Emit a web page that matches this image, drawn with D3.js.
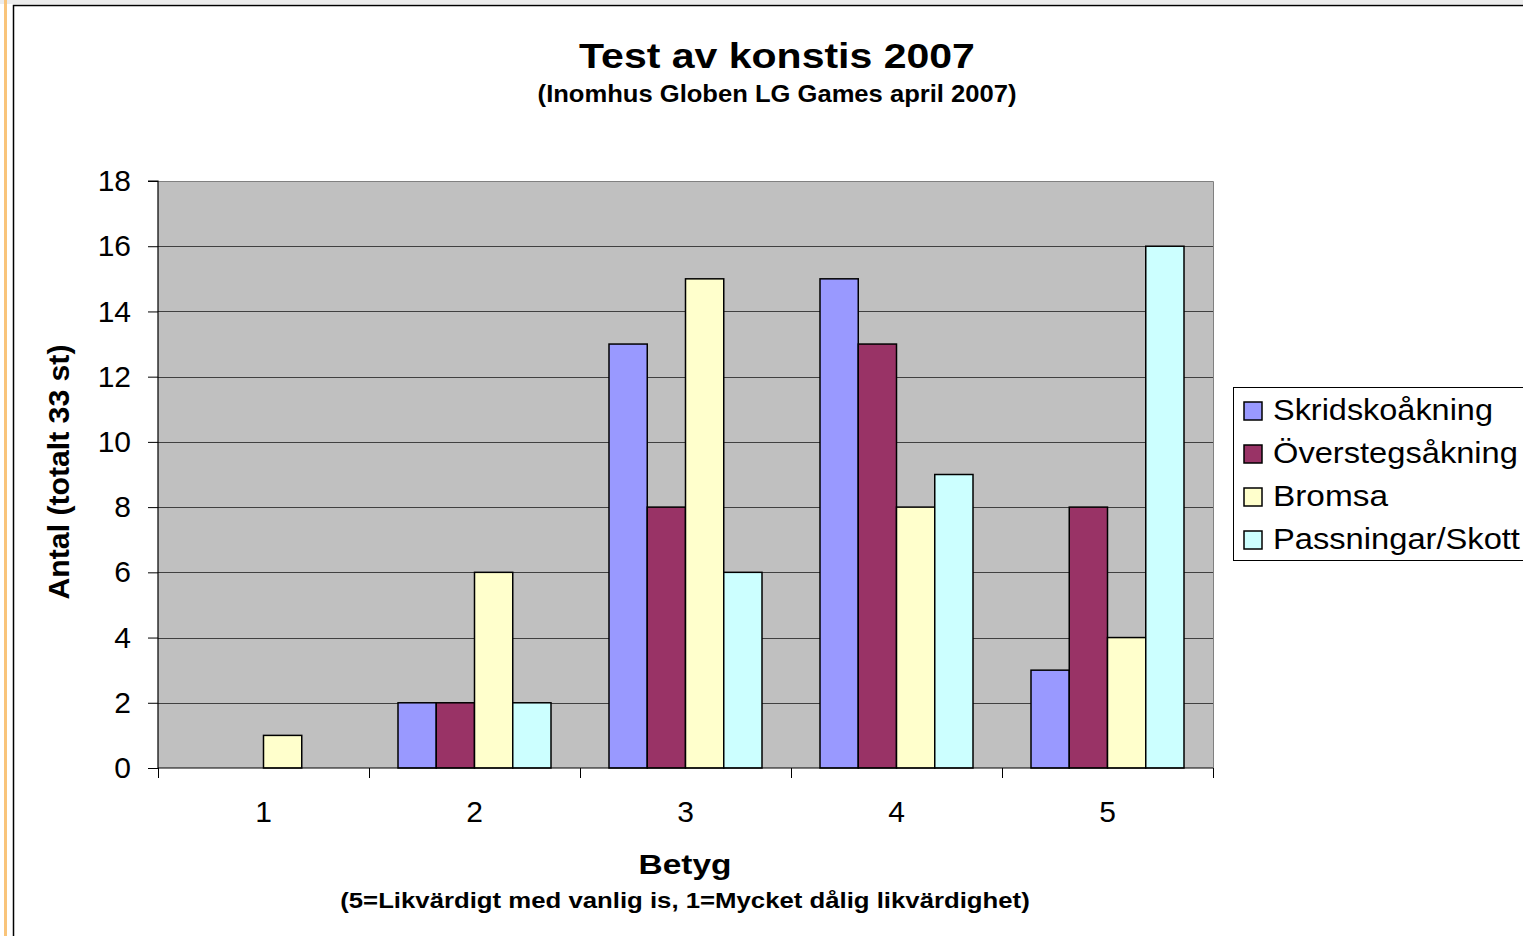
<!DOCTYPE html>
<html><head><meta charset="utf-8">
<script src="https://cdn.jsdelivr.net/npm/d3@7"></script>
<style>
html,body{margin:0;padding:0;background:#fff;overflow:hidden;}
svg{display:block;font-family:"Liberation Sans",Arial,sans-serif;}
</style></head>
<body>
<script>
const categories = ["1","2","3","4","5"];
const seriesNames = ["Skridskoåkning","Överstegsåkning","Bromsa","Passningar/Skott"];
const skridsko = [0,2,13,15,3];
const overstegs = [0,2,8,13,8];
const bromsa = [1,6,15,8,4];
const passningar = [0,2,6,9,16];
const yTicks = [0,2,4,6,8,10,12,14,16,18];
const colors = ["#9999ff","#993366","#ffffcc","#ccffff"];
const seriesValues = [skridsko, overstegs, bromsa, passningar];
const legendWidths = [220,245,115,247];

const W = 1523, H = 936;
const svg = d3.select("body").append("svg").attr("width", W).attr("height", H);

// page decorations
svg.append("rect").attr("x",0).attr("y",0).attr("width",W).attr("height",4).attr("fill","#ececec");
svg.append("rect").attr("x",4).attr("y",0).attr("width",3).attr("height",H).attr("fill","#f9c47a");
svg.append("rect").attr("x",13.5).attr("y",5.5).attr("width",W).attr("height",H).attr("fill","#fff").attr("stroke","#000").attr("stroke-width",1.5);

const L = 158, R = 1213, T = 181, B = 768;
const x0 = d3.scaleBand().domain(categories).range([L, R]).padding(0);
const x1 = d3.scaleBand().domain(seriesNames).range([29, x0.bandwidth() - 29]).padding(0);
const y = d3.scaleLinear().domain([0, 18]).range([B, T]);

svg.append("rect").attr("x",L).attr("y",T).attr("width",R-L).attr("height",B-T).attr("fill","#c0c0c0");

// gridlines
svg.append("g").selectAll("line").data(yTicks.filter(d=>d>0)).join("line")
  .attr("x1",L).attr("x2",R).attr("y1",d=>Math.round(y(d))+0.5).attr("y2",d=>Math.round(y(d))+0.5)
  .attr("stroke","#404040").attr("stroke-width",1);

// plot border (right side and top)
svg.append("path").attr("d",`M${L},${T+0.5}H${R+0.5}V${B}`).attr("fill","none").attr("stroke","#808080").attr("stroke-width",1);

// bars
const g = svg.append("g");
categories.forEach((c,ci)=>{
  seriesNames.forEach((s,si)=>{
    const v = seriesValues[si][ci];
    if (v<=0) return;
    g.append("rect")
      .attr("x", x0(c)+x1(s)).attr("y", y(v))
      .attr("width", x1.bandwidth()).attr("height", y(0)-y(v))
      .attr("fill", colors[si]).attr("stroke","#000").attr("stroke-width",1.5);
  });
});

// y axis
const yAxis = d3.axisLeft(y).tickValues(yTicks).tickSize(10).tickPadding(17).tickFormat(d3.format("d"));
const yg = svg.append("g").attr("transform",`translate(${L},0)`).call(yAxis);
yg.select(".domain").attr("stroke","#000").attr("stroke-width",1.2).attr("d",`M-10,${T}H0V${B}`);
yg.selectAll(".tick line").attr("stroke","#000");
yg.selectAll("text").attr("font-size",30).attr("fill","#000").attr("font-family","Liberation Sans, Arial");

// x axis
const xAxis = d3.axisBottom(x0).tickSize(0).tickPadding(33);
const xg = svg.append("g").attr("transform",`translate(0,${B})`).call(xAxis);
xg.select(".domain").attr("stroke","#000").attr("stroke-width",1.2).attr("d",`M${L},0H${R}`);
xg.selectAll("text").attr("font-size",30).attr("fill","#000").attr("font-family","Liberation Sans, Arial");
// category boundary ticks
const bounds = categories.map(c=>x0(c)).concat([R]);
svg.append("g").selectAll("line").data(bounds).join("line")
  .attr("x1",d=>d+0.5).attr("x2",d=>d+0.5).attr("y1",B).attr("y2",B+10)
  .attr("stroke","#000").attr("stroke-width",1);

// text helper: horizontally stretch text to a target width
function fitText(parentTransform, txt, size, weight, anchor, width){
  const grp = svg.append("g").attr("transform", parentTransform);
  const inner = grp.append("g");
  const t = inner.append("text").attr("x",0).attr("y",0).attr("text-anchor",anchor)
    .attr("font-size",size).attr("font-weight",weight).attr("fill","#000").text(txt);
  const w = t.node().getComputedTextLength();
  if (w > 0) inner.attr("transform", `scale(${width / w},1)`);
  return grp;
}

fitText("translate(777,68)", "Test av konstis 2007", 36, "bold", "middle", 396);
fitText("translate(777,102)", "(Inomhus Globen LG Games april 2007)", 23, "bold", "middle", 479);
fitText("translate(69,472) rotate(-90)", "Antal (totalt 33 st)", 29, "bold", "middle", 255);
fitText("translate(685,874)", "Betyg", 27, "bold", "middle", 93);
fitText("translate(685,908)", "(5=Likvärdigt med vanlig is, 1=Mycket dålig likvärdighet)", 22, "bold", "middle", 690);

// legend
const lg = svg.append("g");
lg.append("rect").attr("x",1233.5).attr("y",387.5).attr("width",320).attr("height",173)
  .attr("fill","#fff").attr("stroke","#000").attr("stroke-width",1);
seriesNames.forEach((s,i)=>{
  const cy = 411 + i*43;
  lg.append("rect").attr("x",1244).attr("y",cy-9).attr("width",18).attr("height",18)
    .attr("fill",colors[i]).attr("stroke","#000").attr("stroke-width",1.5);
  fitText(`translate(1273,${cy+9})`, s, 30, "normal", "start", legendWidths[i]);
});
</script>
</body></html>
